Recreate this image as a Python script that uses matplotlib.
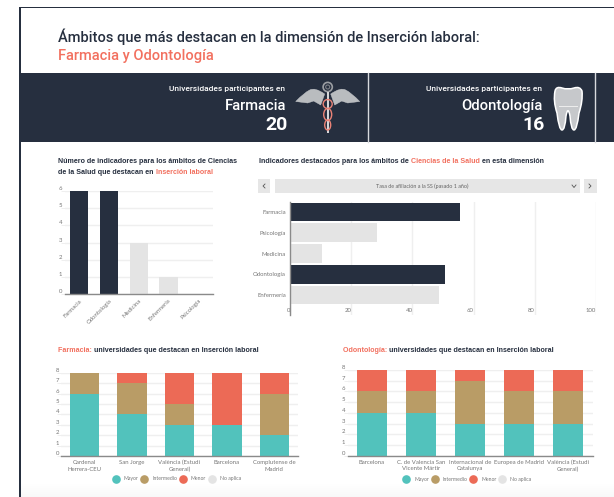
import matplotlib
matplotlib.use("Agg")
import matplotlib.pyplot as plt
from matplotlib.lines import Line2D
from matplotlib.patches import Circle, Ellipse, PathPatch, Rectangle
from matplotlib.path import Path

WIDTH = 614
HEIGHT = 497

DARK = "#262f3f"
SALMON = "#f2705f"
TEAL = "#52c2bc"
TAN = "#b99c66"
RED = "#ec6a56"
LIGHT = "#e4e4e4"
GRID = "#efefef"
AXIS = "#8a8a8a"
LABEL = "#777777"

count_names = ["Farmacia", "Odontología", "Medicina", "Enfermería", "Psicología"]
count_values = [6, 6, 3, 1, 0]
count_colors = [DARK, DARK, LIGHT, LIGHT, LIGHT]

rate_names = ["Farmacia", "Psicología", "Medicina", "Odontología", "Enfermería"]
rate_values = [55.6, 28.4, 10.4, 50.7, 48.7]
rate_colors = [DARK, LIGHT, LIGHT, DARK, LIGHT]
rate_ticks = [0, 20, 40, 60, 80, 100]

farmacia_unis = ["Cardenal\nHerrera-CEU", "San Jorge", "València (Estudi\nGeneral)",
                 "Barcelona", "Complutense de\nMadrid"]
farmacia_mayor = [6, 4, 3, 3, 2]
farmacia_intermedio = [2, 3, 2, 0, 4]
farmacia_menor = [0, 1, 3, 5, 2]

odonto_unis = ["Barcelona", "C. de Valencia San\nVicente Mártir", "Internacional de\nCatalunya",
               "Europea de Madrid", "València (Estudi\nGeneral)"]
odonto_mayor = [4, 4, 3, 3, 3]
odonto_intermedio = [2, 2, 4, 3, 3]
odonto_menor = [2, 2, 1, 2, 2]

legend_names = ["Mayor", "Intermedio", "Menor", "No aplica"]
legend_colors = [TEAL, TAN, RED, LIGHT]

plt.rcParams["font.family"] = ["Lato", "DejaVu Sans"]

fig = plt.figure(figsize=(WIDTH / 100, HEIGHT / 100), dpi=100, facecolor="white")


def px_axes(left, top, right, bottom):
    ax = fig.add_axes([left / WIDTH, 1 - bottom / HEIGHT,
                       (right - left) / WIDTH, (bottom - top) / HEIGHT])
    ax.patch.set_alpha(0)
    return ax


# background layer in pixel coordinates, for the page furniture
bg = fig.add_axes([0, 0, 1, 1], zorder=-1)
bg.set_xlim(0, WIDTH)
bg.set_ylim(HEIGHT, 0)
bg.axis("off")


def pieces(x, y, parts, size, family="Liberation Sans", weight="bold"):
    # mixed colour line, each part starts where the one before ended
    renderer = fig.canvas.get_renderer()
    for text, color in parts:
        t = bg.text(x, y, text, color=color, fontsize=size, family=family,
                    fontweight=weight, va="center", ha="left")
        x += t.get_window_extent(renderer).width


def draw_caduceus(cx):
    for side in (-1, 1):
        wing = Path([(cx + side * 3, 94), (cx + side * 13, 87), (cx + side * 18, 90),
                     (cx + side * 24, 93), (cx + side * 32, 101.5),
                     (cx + side * 20, 103), (cx + side * 14, 101), (cx + side * 7, 105), (cx + side * 3, 94)],
                    [Path.MOVETO, Path.CURVE3, Path.CURVE3, Path.CURVE3, Path.CURVE3,
                     Path.LINETO, Path.LINETO, Path.LINETO, Path.CLOSEPOLY])
        bg.add_patch(PathPatch(wing, fc="#b9bcbf", ec="#c9cbce", lw=0.3))
    bg.add_patch(Circle((cx, 87), 4.6, fc="none", ec="#9b9ea3", lw=1.2))
    bg.add_patch(Circle((cx, 87), 2.0, fc="none", ec="#7d8087", lw=0.8))
    bg.add_patch(Rectangle((cx - 1.2, 92), 2.4, 41, fc="#d5d6d8", ec="none"))
    for cy, h, w in [(104, 9, 9), (114.5, 12, 8), (125, 10, 6)]:
        bg.add_patch(Ellipse((cx, cy), w, h, fc="none", ec="#ea8276", lw=1.0))


def draw_tooth(cx):
    # outer shape as quadratic curves
    tooth = Path([(cx - 13, 91), (cx - 12, 86), (cx - 6, 88), (cx, 90), (cx + 6, 88),
                  (cx + 12, 86), (cx + 14, 91), (cx + 15, 101), (cx + 11, 113),
                  (cx + 9, 130), (cx + 6, 130), (cx + 3, 130), (cx + 2, 116),
                  (cx, 105), (cx - 2, 116), (cx - 3, 130), (cx - 6, 130),
                  (cx - 9, 130), (cx - 11, 113), (cx - 15, 101), (cx - 13, 91)],
                 [Path.MOVETO] + [Path.CURVE3] * 20)
    bg.add_patch(PathPatch(tooth, fc="#c6c8cb", ec="white", lw=1.1, joinstyle="round"))
    bg.plot([cx - 9, cx + 9], [106, 106], color="#eeeeee", lw=0.7)


# page frame and bottom band
for i in range(8):
    bg.add_patch(Rectangle((21, 482 + i * 2), WIDTH - 21, 2,
                           fc=(1 - i * 0.004, 1 - i * 0.004, 1 - i * 0.004), ec="none"))
bg.add_patch(Rectangle((19, 6.5), WIDTH - 19, 1.7, fc=DARK, ec="none"))
bg.add_patch(Rectangle((19, 6.5), 2.2, HEIGHT - 6.5, fc=DARK, ec="none"))

# header
bg.text(58.5, 37, "Ámbitos que más destacan en la dimensión de Inserción laboral:", color=DARK,
        fontsize=10.5, family="Roboto", fontweight="medium", va="center")
bg.text(58.5, 56, "Farmacia y Odontología", color=SALMON, fontsize=10.5, family="Roboto",
        fontweight="medium", va="center")

# banner
bg.add_patch(Rectangle((21, 73), WIDTH - 21, 69, fc=DARK, ec="none"))
for x_div in (368, 595):
    bg.plot([x_div, x_div], [73, 142], color="#d8dade", lw=1.0)
for right, name, total in [(286, "Farmacia", "20"), (542.5, "Odontología", "16")]:
    bg.text(right - 1, 88.5, "Universidades participantes en", color="white", fontsize=6.0,
            family="Roboto", fontweight="medium", ha="right", va="center")
    bg.text(right, 106, name, color="white", fontsize=10.6, family="Roboto",
            fontweight="medium", ha="right", va="center")
    bg.text(right + 2, 125, total, color="white", fontsize=14, family="Roboto",
            fontweight="bold", ha="right", va="center")
draw_caduceus(327.7)
draw_tooth(568)

# section titles
pieces(58, 161.5, [("Número de indicadores para los ámbitos de Ciencias", DARK)], 5.15)
pieces(58, 173, [("de la Salud que destacan en ", DARK), ("Inserción laboral", SALMON)], 5.15)
pieces(259, 161.5, [("Indicadores destacados para los ámbitos de ", DARK),
                    ("Ciencias de la Salud", SALMON), (" en esta dimensión", DARK)], 5.15)
pieces(58, 350, [("Farmacia: ", SALMON), ("universidades que destacan en Inserción laboral", DARK)], 5.15)
pieces(343, 350, [("Odontología: ", SALMON), ("universidades que destacan en Inserción laboral", DARK)], 5.15)

# indicator selector
for x0, x1 in [(258, 270), (275, 580), (584, 597)]:
    bg.add_patch(Rectangle((x0, 179), x1 - x0, 14, fc="#e6e6e6", ec="none"))
bg.text(422.5, 186, "Tasa de afiliación a la SS (pasado 1 año)", color="#666666", fontsize=3.9,
        ha="center", va="center")
bg.plot([572, 574, 576], [185, 187.5, 185], color="#555555", lw=0.6)
bg.plot([265, 263, 265], [184, 186, 188], color="#555555", lw=0.6)
bg.plot([589, 591, 589], [184, 186, 188], color="#555555", lw=0.6)


def style_vertical(ax, names, ymax, rotate=False):
    ax.set_xlim(-0.5, len(names) - 0.5)
    ax.set_ylim(0, ymax)
    ax.set_yticks(range(ymax + 1))
    ax.grid(axis="y", color=GRID, lw=1)
    ax.set_axisbelow(True)
    for side in ("top", "right", "left"):
        ax.spines[side].set_visible(False)
    ax.spines["bottom"].set_color(AXIS)
    ax.spines["bottom"].set_linewidth(1.0)
    ax.tick_params(axis="y", length=2.9, width=0.7, color=GRID, labelsize=4.3,
                   labelcolor=LABEL, pad=-1.5)
    ax.tick_params(axis="x", length=0, labelsize=4.3, labelcolor=LABEL, pad=3)
    for label in ax.get_yticklabels():
        label.set_va("bottom")
    ax.set_xticks(range(len(names)))
    if rotate:
        ax.set_xticklabels(names, rotation=45, ha="right", rotation_mode="anchor")
    else:
        ax.set_xticklabels(names, linespacing=1.35)


# chart 1, indicator counts
ax1 = px_axes(64.5, 191, 213, 294)
ax1.bar(count_names, count_values, width=0.61, color=count_colors)
style_vertical(ax1, count_names, 6, rotate=True)

# chart 2, rate per field
ax2 = px_axes(290, 201.5, 596, 315)
positions = list(range(len(rate_names)))
ax2.barh(positions, rate_values, height=0.89, color=rate_colors)
ax2.set_xlim(0, 100)
ax2.set_ylim(4.95, -0.5)
ax2.set_yticks(positions)
ax2.set_yticklabels(rate_names)
ax2.set_xticks(rate_ticks)
ax2.set_xticklabels(rate_ticks, ha="right")
ax2.grid(axis="x", color=GRID, lw=1)
ax2.set_axisbelow(True)
for side in ("top", "right", "bottom"):
    ax2.spines[side].set_visible(False)
ax2.spines["left"].set_color(AXIS)
ax2.spines["left"].set_linewidth(1.0)
ax2.tick_params(axis="y", length=0, labelsize=4.3, labelcolor=LABEL, pad=3)
ax2.tick_params(axis="x", length=0, labelsize=4.3, labelcolor=LABEL, pad=-5)


def stacked(ax, names, mayor, intermedio, menor):
    x = range(len(names))
    bottom_mid = mayor
    bottom_top = [a + b for a, b in zip(mayor, intermedio)]
    ax.bar(x, mayor, width=0.62, color=TEAL)
    ax.bar(x, intermedio, width=0.62, bottom=bottom_mid, color=TAN)
    ax.bar(x, menor, width=0.62, bottom=bottom_top, color=RED)
    style_vertical(ax, names, 8)
    handles = [Line2D([], [], ls="", marker="o", ms=5.2, color=c, label=n)
               for n, c in zip(legend_names, legend_colors)]
    leg = ax.legend(handles=handles, ncol=4, loc="center", bbox_to_anchor=(0.49, -0.275),
                    frameon=False, fontsize=3.7, handlelength=1, handletextpad=1.05,
                    columnspacing=0.6)
    for text in leg.get_texts():
        text.set_color(LABEL)


ax3 = px_axes(61, 372.7, 298, 456)
stacked(ax3, farmacia_unis, farmacia_mayor, farmacia_intermedio, farmacia_menor)

ax4 = px_axes(347.5, 370, 592.5, 455.7)
stacked(ax4, odonto_unis, odonto_mayor, odonto_intermedio, odonto_menor)

fig.savefig("out.png", dpi=100)
